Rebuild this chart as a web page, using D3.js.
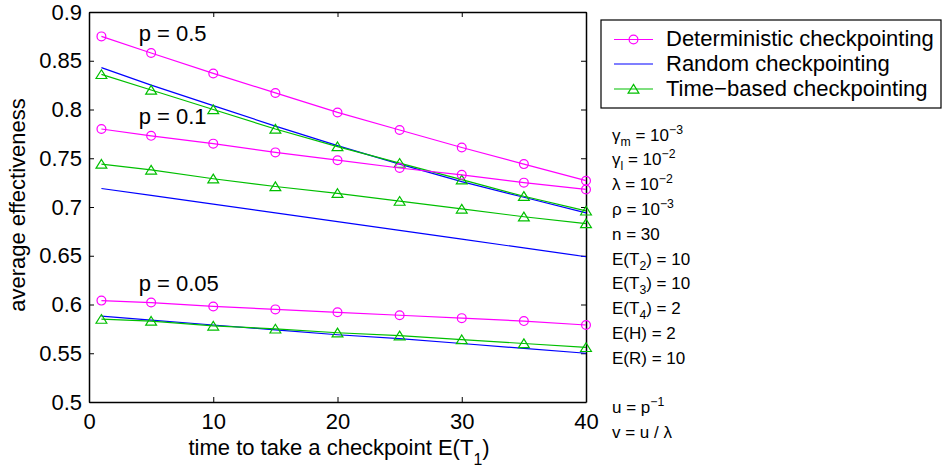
<!DOCTYPE html>
<html>
<head>
<meta charset="utf-8">
<script src="https://cdn.jsdelivr.net/npm/d3@7"></script>
<style>
  body { margin: 0; background: #fff; }
  svg text { font-family: "Liberation Sans", Arial, Helvetica, sans-serif; fill: #000; }
</style>
</head>
<body>
<svg id="chart" width="942" height="469"></svg>
<script>
var checkpointTimes = [1, 5, 10, 15, 20, 25, 30, 35, 40];

// p = 0.5
var detP05  = [0.875, 0.858, 0.837, 0.817, 0.797, 0.779, 0.761, 0.744, 0.727];
var randP05 = [0.843, 0.825, 0.804, 0.783, 0.763, 0.744, 0.726, 0.710, 0.694];
var timeP05 = [0.836, 0.820, 0.800, 0.780, 0.762, 0.745, 0.728, 0.711, 0.696];
// p = 0.1
var detP01  = [0.780, 0.773, 0.765, 0.756, 0.748, 0.740, 0.733, 0.725, 0.718];
var randP01 = [0.719, 0.712, 0.703, 0.694, 0.685, 0.676, 0.667, 0.658, 0.649];
var timeP01 = [0.744, 0.738, 0.729, 0.721, 0.714, 0.706, 0.698, 0.690, 0.683];
// p = 0.05
var detP005  = [0.604, 0.602, 0.598, 0.595, 0.592, 0.589, 0.586, 0.583, 0.579];
var randP005 = [0.588, 0.584, 0.579, 0.574, 0.569, 0.565, 0.560, 0.555, 0.550];
var timeP005 = [0.585, 0.583, 0.578, 0.575, 0.571, 0.568, 0.564, 0.560, 0.556];

var seriesNames = ['Deterministic checkpointing', 'Random checkpointing', 'Time\u2212based checkpointing'];
var seriesColors = ['#ff00ff', '#0000ff', '#00bf00'];
var seriesMarkers = ['circle', 'none', 'triangle'];

var pLabels = ['p = 0.5', 'p = 0.1', 'p = 0.05'];
var pLabelX = 4;
var pLabelY = [0.876, 0.791, 0.6195];

var xTicks = [0, 10, 20, 30, 40];
var yTicks = [0.5, 0.55, 0.6, 0.65, 0.7, 0.75, 0.8, 0.85, 0.9];

var paramLines = [
  '\u03b3_{m} = 10^{\u22123}',
  '\u03b3_{l} = 10^{\u22122}',
  '\u03bb = 10^{\u22122}',
  '\u03c1 = 10^{\u22123}',
  'n = 30',
  'E(T_{2}) = 10',
  'E(T_{3}) = 10',
  'E(T_{4}) = 2',
  'E(H) = 2',
  'E(R) = 10',
  '',
  'u = p^{\u22121}',
  'v = u / \u03bb'
];

// one entry per drawn curve: [series index, values]
var curves = [
  [0, detP05], [1, randP05], [2, timeP05],
  [0, detP01], [1, randP01], [2, timeP01],
  [0, detP005], [1, randP005], [2, timeP005]
];

var svg = d3.select('#chart');

var x = d3.scaleLinear().domain([0, 40]).range([89, 586]);
var y = d3.scaleLinear().domain([0.5, 0.9]).range([402, 12]);

// text with TeX-like _{..} and ^{..} pieces
function richText(sel, str, size, sub, sup) {
  var parts = str.split(/([_^]\{[^}]*\})/).filter(function(s) { return s.length; });
  var shift = 0;
  parts.forEach(function(p) {
    var t = sel.append('tspan');
    var want = 0, txt = p, fs = size;
    if (p[0] === '_') { want = sub; txt = p.slice(2, -1); fs = size * 0.72; }
    else if (p[0] === '^') { want = -sup; txt = p.slice(2, -1); fs = size * 0.72; }
    t.attr('dy', want - shift).style('font-size', fs + 'px').text(txt);
    shift = want;
  });
}

function drawMarker(g, type, cx, cy, color) {
  if (type === 'circle') {
    g.append('circle').attr('cx', cx).attr('cy', cy).attr('r', 4.4)
      .attr('fill', 'none').attr('stroke', color).attr('stroke-width', 1.2);
  } else if (type === 'triangle') {
    g.append('path')
      .attr('d', 'M' + cx + ',' + (cy - 4.6) + 'L' + (cx + 5.4) + ',' + (cy + 4.1) + 'L' + (cx - 5.4) + ',' + (cy + 4.1) + 'Z')
      .attr('fill', 'none').attr('stroke', color).attr('stroke-width', 1.2);
  }
}

// axes: ticks point inward on all four sides
var axisStyle = function(g) {
  g.select('.domain').attr('stroke', '#000').attr('stroke-width', 1.5);
  g.selectAll('.tick line').attr('stroke', '#000').attr('stroke-width', 1);
  g.selectAll('.tick text').style('font-size', '22px').attr('fill', '#000')
    .style('font-family', '"Liberation Sans", Arial, sans-serif');
};

svg.append('g').attr('transform', 'translate(0,402)')
  .call(d3.axisBottom(x).tickValues(xTicks).tickSizeInner(-5).tickSizeOuter(0).tickPadding(11))
  .call(axisStyle);
svg.append('g').attr('transform', 'translate(0,12)')
  .call(d3.axisTop(x).tickValues(xTicks).tickSizeInner(-5).tickSizeOuter(0).tickFormat(''))
  .call(axisStyle);
svg.append('g').attr('transform', 'translate(89,0)')
  .call(d3.axisLeft(y).tickValues(yTicks).tickSizeInner(-5).tickSizeOuter(0).tickPadding(7)
    .tickFormat(function(d) { return String(+d.toFixed(2)); }))
  .call(axisStyle);
svg.append('g').attr('transform', 'translate(586,0)')
  .call(d3.axisRight(y).tickValues(yTicks).tickSizeInner(-5).tickSizeOuter(0).tickFormat(''))
  .call(axisStyle);

// curves
var line = d3.line()
  .x(function(d, i) { return x(checkpointTimes[i]); })
  .y(function(d) { return y(d); });

curves.forEach(function(c) {
  var color = seriesColors[c[0]];
  var g = svg.append('g');
  g.append('path').attr('d', line(c[1])).attr('fill', 'none')
    .attr('stroke', color).attr('stroke-width', 1.2);
  c[1].forEach(function(v, i) {
    drawMarker(g, seriesMarkers[c[0]], x(checkpointTimes[i]), y(v), color);
  });
});

// p annotations
pLabels.forEach(function(t, i) {
  svg.append('text').attr('x', x(pLabelX)).attr('y', y(pLabelY[i]) + 5.5)
    .style('font-size', '22px').text(t);
});

// axis titles
var xt = svg.append('text').attr('x', 339).attr('y', 455).attr('text-anchor', 'middle')
  .style('font-size', '22px');
richText(xt, 'time to take a checkpoint E(T_{1})', 22, 10, 9);

svg.append('text').attr('transform', 'translate(25,205) rotate(-90)')
  .attr('text-anchor', 'middle').style('font-size', '22px')
  .text('average effectiveness');

// legend
var legend = svg.append('g');
legend.append('rect').attr('x', 601).attr('y', 20).attr('width', 340).attr('height', 88)
  .attr('fill', '#fff').attr('stroke', '#000').attr('stroke-width', 1.2);
var rowY = [39.5, 64, 89];
seriesNames.forEach(function(name, i) {
  legend.append('line').attr('x1', 614).attr('x2', 653).attr('y1', rowY[i]).attr('y2', rowY[i])
    .attr('stroke', seriesColors[i]).attr('stroke-width', 1.2);
  drawMarker(legend, seriesMarkers[i], 633.5, rowY[i], seriesColors[i]);
  legend.append('text').attr('x', 666).attr('y', rowY[i] + 6.8)
    .style('font-size', '22px').text(name);
});

// model parameters
paramLines.forEach(function(s, i) {
  if (!s) return;
  var t = svg.append('text').attr('x', 612).attr('y', 140.5 + i * 24.8).style('font-size', '17px');
  richText(t, s, 17, 5, 7);
});
</script>
</body>
</html>
